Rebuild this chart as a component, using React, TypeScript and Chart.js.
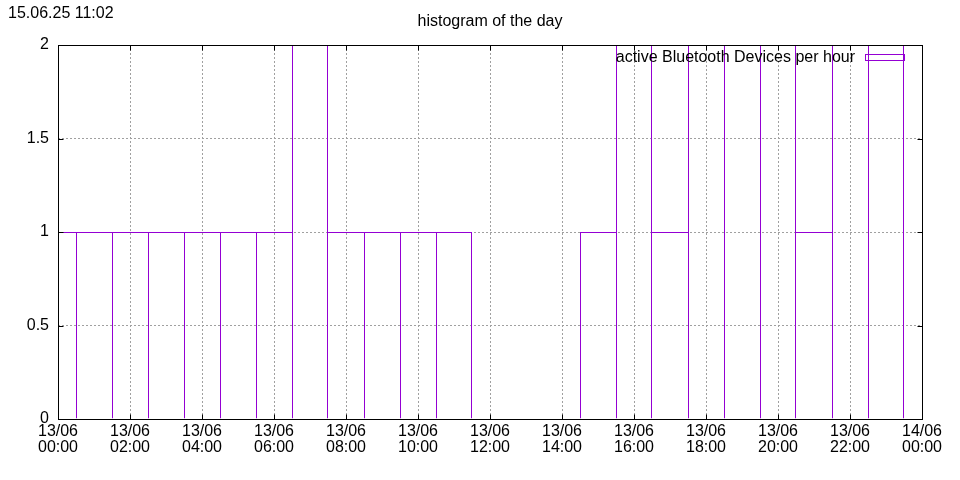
import React, { useEffect, useRef } from 'react';
import { Chart, registerables } from 'chart.js';

Chart.register(...registerables);

// ---- data ----
const HOURS: number[] = [0, 1, 2, 3, 4, 5, 6, 7, 8, 9, 10, 11, 12, 13, 14, 15, 16, 17, 18, 19, 20, 21, 22, 23];
const DEVICES: (number | null)[] = [1, 1, 1, 1, 1, 1, 1, 2, 1, 1, 1, 1, null, null, null, 1, 2, 1, 2, 2, 2, 1, 2, 2];
const X_TICK_DATES: string[] = ['13/06', '13/06', '13/06', '13/06', '13/06', '13/06', '13/06', '13/06', '13/06', '13/06', '13/06', '13/06', '14/06'];
const X_TICK_TIMES: string[] = ['00:00', '02:00', '04:00', '06:00', '08:00', '10:00', '12:00', '14:00', '16:00', '18:00', '20:00', '22:00', '00:00'];
const Y_TICK_LABELS: string[] = ['0', '0.5', '1', '1.5', '2'];
const TITLE = 'histogram of the day';
const TIMESTAMP = '15.06.25 11:02';
const SERIES_LABEL = 'active Bluetooth Devices per hour';

const FONT = '"Liberation Sans", Arial, sans-serif';
const PURPLE = '#9400D3';

const sideWidths = (ctx: any) => {
  const i = ctx.dataIndex;
  if (i === undefined) return 1;
  const v = DEVICES[i];
  if (v == null) return 0;
  const prev = i > 0 ? DEVICES[i - 1] : null;
  const next = i < DEVICES.length - 1 ? DEVICES[i + 1] : null;
  return {
    top: 1,
    bottom: 0,
    left: prev == null || prev <= v ? 1 : 0,
    right: next == null || next < v ? 1 : 0,
  };
};

const decorPlugin = {
  id: 'gnuplotDecor',
  afterDatasetsDraw(chart: any) {
    const { ctx, chartArea, scales } = chart;
    const { left, top, right, bottom } = chartArea;
    const x = scales.x;
    const y = scales.y;
    ctx.save();
    ctx.strokeStyle = '#000';
    ctx.lineWidth = 1;
    ctx.setLineDash([]);
    ctx.strokeRect(left + 0.5, top + 0.5, right - left, bottom - top);
    const tl = 5;
    ctx.beginPath();
    x.ticks.forEach((t: any) => {
      const px = Math.round(x.getPixelForValue(t.value)) + 0.5;
      ctx.moveTo(px, bottom + 0.5);
      ctx.lineTo(px, bottom + 0.5 - tl);
      ctx.moveTo(px, top + 0.5);
      ctx.lineTo(px, top + 0.5 + tl);
    });
    y.ticks.forEach((t: any) => {
      const py = Math.round(y.getPixelForValue(t.value)) + 0.5;
      ctx.moveTo(left + 0.5, py);
      ctx.lineTo(left + 0.5 + tl, py);
      ctx.moveTo(right + 0.5, py);
      ctx.lineTo(right + 0.5 - tl, py);
    });
    ctx.stroke();

    // key
    ctx.fillStyle = '#000';
    ctx.font = `16px ${FONT}`;
    ctx.textBaseline = 'alphabetic';
    ctx.textAlign = 'right';
    ctx.fillText(SERIES_LABEL, 855, 62);
    ctx.strokeStyle = PURPLE;
    ctx.strokeRect(865.5, 54.5, 39, 6);

    // title + timestamp
    ctx.textAlign = 'center';
    ctx.fillText(TITLE, (left + right) / 2, 26);
    ctx.textAlign = 'left';
    ctx.fillText(TIMESTAMP, 8, 18);
    ctx.restore();
  },
};

export default function App() {
  const canvasRef = useRef<HTMLCanvasElement | null>(null);

  useEffect(() => {
    document.body.style.margin = '0';
    const canvas = canvasRef.current;
    if (!canvas) return;
    Chart.defaults.font.family = FONT;
    Chart.defaults.font.size = 16;
    Chart.defaults.color = '#000';

    const chart = new Chart(canvas, {
      type: 'bar',
      data: {
        datasets: [
          {
            label: SERIES_LABEL,
            data: HOURS.map((h, i) => ({ x: h, y: DEVICES[i] })) as any,
            backgroundColor: 'rgba(0,0,0,0)',
            borderColor: PURPLE,
            borderWidth: sideWidths as any,
            borderSkipped: false,
            inflateAmount: 0,
            barPercentage: 1,
            categoryPercentage: 1,
            clip: 0,
          } as any,
        ],
      },
      options: {
        responsive: false,
        animation: false,
        events: [],
        devicePixelRatio: 1,
        layout: { padding: { top: 45, right: 38, left: 0, bottom: 0 } },
        plugins: {
          legend: { display: false },
          title: { display: false },
          tooltip: { enabled: false },
        },
        scales: {
          x: {
            type: 'linear',
            min: 0,
            max: 24,
            offset: false,
            afterFit: (s: any) => {
              s.height = 61;
            },
            grid: {
              color: '#a0a0a0',
              lineWidth: 1,
              drawTicks: false,
              offset: false,
            },
            border: { display: false, dash: [2, 2] },
            ticks: {
              stepSize: 2,
              autoSkip: false,
              maxRotation: 0,
              padding: 5,
              font: { size: 16, family: FONT, lineHeight: 1.0 },
              color: '#000',
              callback: (_v: any, i: number) => [X_TICK_DATES[i], X_TICK_TIMES[i]],
            },
          },
          y: {
            type: 'linear',
            min: 0,
            max: 2,
            afterFit: (s: any) => {
              s.width = 58;
            },
            grid: {
              color: '#a0a0a0',
              lineWidth: 1,
              drawTicks: false,
            },
            border: { display: false, dash: [2, 2] },
            ticks: {
              stepSize: 0.5,
              padding: 9,
              font: { size: 16, family: FONT },
              color: '#000',
              callback: (_v: any, i: number) => Y_TICK_LABELS[i],
            },
          },
        },
      } as any,
      plugins: [decorPlugin],
    });

    return () => {
      chart.destroy();
    };
  }, []);

  return (
    <div style={{ position: 'absolute', left: 0, top: 0, width: 960, height: 480, background: '#fff' }}>
      <canvas ref={canvasRef} width={960} height={480} style={{ display: 'block' }} />
    </div>
  );
}
